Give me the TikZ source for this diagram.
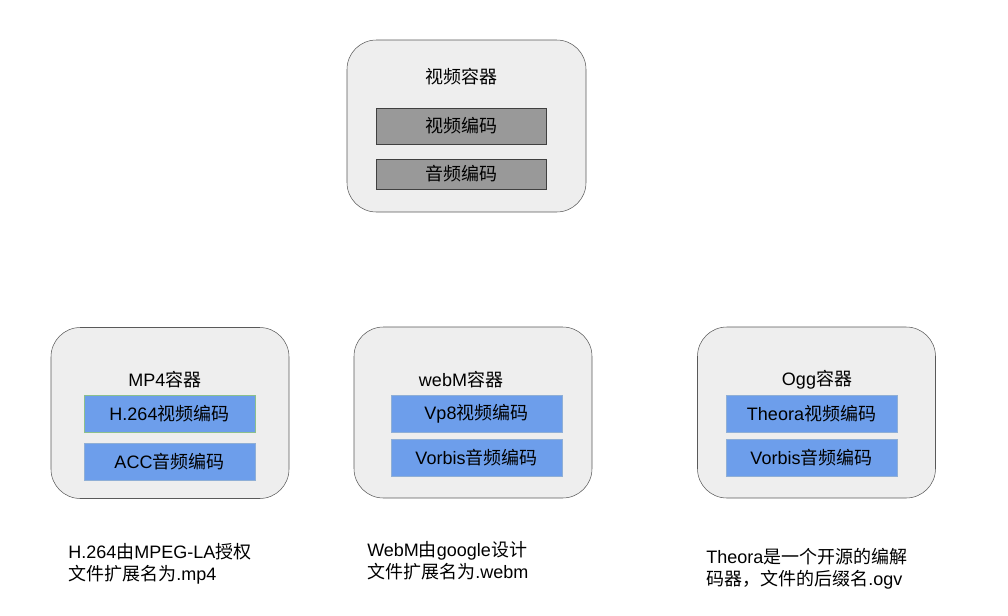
\documentclass[tikz,border=0pt]{standalone}
\usepackage{fontspec}
\setmainfont{Liberation Sans}
\newfontfamily\cjk{Noto Sans CJK SC}
\definecolor{boxgray}{HTML}{EEEEEE}
\definecolor{codecgray}{HTML}{999999}
\definecolor{codecblue}{HTML}{6D9EEB}
\definecolor{codecedge}{HTML}{8FAFD6}

\begin{document}
\begin{tikzpicture}[x=0.75pt,y=-0.75pt,
    font=\fontsize{13.5}{16.5}\selectfont,
    container/.style={draw=black!65, fill=boxgray, rounded corners=22pt,
        minimum width=178.5pt, minimum height=128.25pt},
    graycodec/.style={draw=black!75, fill=codecgray, inner sep=0pt,
        minimum width=127.5pt},
    bluecodec/.style={draw=codecedge, fill=codecblue, inner sep=0pt,
        minimum width=128.25pt, minimum height=27.75pt},
    note/.style={anchor=west, align=left, inner sep=0pt}]
\useasboundingbox (0,0) rectangle (1008,615);

% generic container
\node[container, minimum width=179.25pt, minimum height=129pt] (video) at (466.5,126) {};
\node (videotitle) at (461,77) {\cjk 视频容器};
\node[graycodec, minimum height=27pt] (vcodec) at (461,126) {\cjk 视频编码};
\node[graycodec, minimum height=22.5pt] (acodec) at (461,174) {\cjk 音频编码};

% mp4
\node[container] (mp4) at (170,413) {};
\node (mp4title) at (165,380) {MP4{\cjk 容器}};
\node[bluecodec, draw=green!45!black!45] (mp4v) at (169.5,413.5) {H.264{\cjk 视频编码}};
\node[bluecodec] (mp4a) at (169.5,461.5) {ACC{\cjk 音频编码}};
\node[note] (mp4note) at (68,564) {H.264{\cjk 由}MPEG-LA{\cjk 授权}\\{\cjk 文件扩展名为}.mp4};

% webm
\node[container] (webm) at (473,412.5) {};
\node (webmtitle) at (461,380) {webM{\cjk 容器}};
\node[bluecodec] (webmv) at (476.5,413.5) {Vp8{\cjk 视频编码}};
\node[bluecodec] (webma) at (476.5,457.5) {Vorbis{\cjk 音频编码}};
\node[note] (webmnote) at (367,561) {WebM{\cjk 由}google{\cjk 设计}\\{\cjk 文件扩展名为}.webm};

% ogg
\node[container] (ogg) at (816.5,412.5) {};
\node (oggtitle) at (817,380) {Ogg{\cjk 容器}};
\node[bluecodec] (oggv) at (811.5,413.5) {Theora{\cjk 视频编码}};
\node[bluecodec] (ogga) at (811.5,458) {Vorbis{\cjk 音频编码}};
\node[note] (oggnote) at (706,569) {Theora{\cjk 是一个开源的编解}\\{\cjk 码器，文件的后缀名}.ogv};
\end{tikzpicture}
\end{document}
